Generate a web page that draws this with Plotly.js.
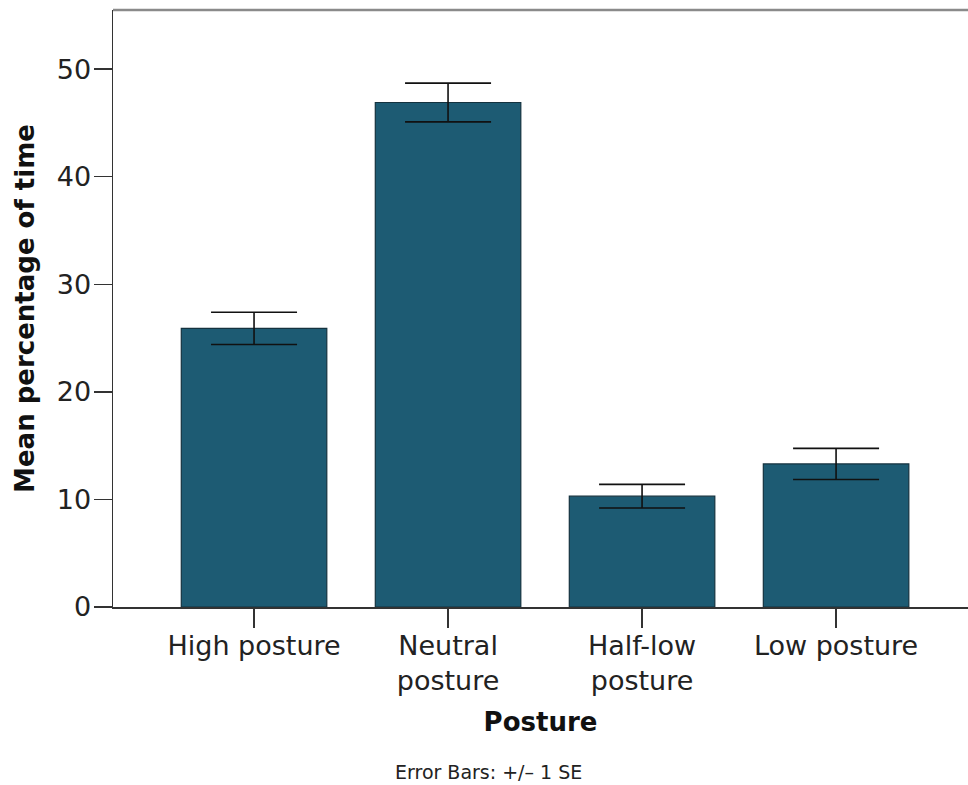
<!DOCTYPE html>
<html>
<head>
<meta charset="utf-8">
<script src="https://cdn.plot.ly/plotly-3.0.1.min.js"></script>
<style>
  html, body { margin: 0; padding: 0; background: #fff; }
  #chart { width: 968px; height: 785px; }
</style>
</head>
<body>
<div id="chart"></div>
<script>
// Posture categories (two-line labels where they wrap)
const categories = ["High posture", "Neutral<br>posture", "Half-low<br>posture", "Low posture"];
// Mean percentage of time spent in each posture
const meanPct = [25.9, 46.9, 10.3, 13.3];
// Standard error of each mean
const stdErr = [1.5, 1.8, 1.1, 1.45];

const yTicks = [0, 10, 20, 30, 40, 50];

const barColor = "#1d5b73";
const font = "DejaVu Sans, Verdana, sans-serif";

const trace = {
  type: "bar",
  x: categories,
  y: meanPct,
  width: 0.75,
  marker: { color: barColor, line: { color: "#14323f", width: 1.2 } },
  error_y: {
    type: "data",
    array: stdErr,
    visible: true,
    color: "#111111",
    thickness: 1.6,
    width: 43
  },
  hoverinfo: "x+y"
};

const layout = {
  width: 968,
  height: 785,
  margin: { l: 113, r: 0, t: 10, b: 178 },
  paper_bgcolor: "#ffffff",
  plot_bgcolor: "#ffffff",
  showlegend: false,
  font: { family: font, color: "#222222" },
  xaxis: {
    type: "category",
    range: [-0.727, 3.68],
    showgrid: false,
    zeroline: false,
    showline: true,
    linecolor: "#333333",
    linewidth: 1.5,
    ticks: "outside",
    ticklen: 19,
    tickwidth: 1.5,
    tickcolor: "#333333",
    ticklabelstandoff: -5,
    tickfont: { family: font, size: 27, color: "#222222" },
    title: {
      text: "Posture",
      font: { family: font, size: 26, color: "#111111", weight: "bold" },
      standoff: 18
    }
  },
  yaxis: {
    range: [0, 55.5],
    tickvals: yTicks,
    ticktext: yTicks.map(String),
    showgrid: false,
    zeroline: false,
    showline: true,
    linecolor: "#333333",
    linewidth: 1.5,
    ticks: "outside",
    ticklen: 18,
    tickwidth: 1.5,
    tickcolor: "#333333",
    ticklabelstandoff: -3,
    tickfont: { family: font, size: 27, color: "#222222" },
    title: {
      text: "Mean percentage of time",
      font: { family: font, size: 26, color: "#111111", weight: "bold" },
      standoff: 14
    }
  },
  shapes: [
    {
      type: "line", xref: "paper", yref: "paper",
      x0: 0, x1: 1, y0: 1, y1: 1,
      line: { color: "#8a8a8a", width: 2.5 }
    }
  ],
  annotations: [
    {
      text: "Error Bars: +/\u2013 1 SE",
      xref: "paper", yref: "paper",
      x: (488 - 113) / 855, y: -(772 - 607) / 597,
      xanchor: "center", yanchor: "middle",
      showarrow: false,
      font: { family: font, size: 19, color: "#222222" }
    }
  ]
};

Plotly.newPlot("chart", [trace], layout, { displayModeBar: false, staticPlot: true });
</script>
</body>
</html>
